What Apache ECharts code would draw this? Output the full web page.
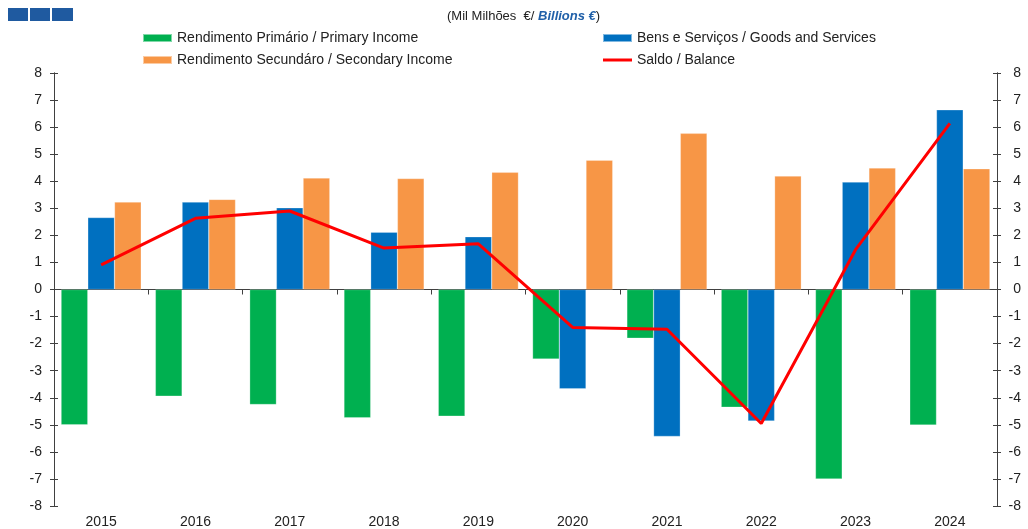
<!DOCTYPE html>
<html>
<head>
<meta charset="utf-8">
<script src="https://cdn.jsdelivr.net/npm/echarts@6/dist/echarts.min.js"></script>
<style>
	html, body { margin: 0; padding: 0; background: #fff; }
	#div_chart { width: 1028px; height: 529px; }
</style>
</head>
<body>
<div id="div_chart"></div>
<script>
// 年份
var years = ['2015', '2016', '2017', '2018', '2019', '2020', '2021', '2022', '2023', '2024'];
// 各系列数据 (Mil Milhões €)
var primary = [-5.0, -3.94, -4.25, -4.74, -4.68, -2.57, -1.80, -4.35, -7.0, -5.01];
var goods = [2.66, 3.23, 3.02, 2.12, 1.95, -3.67, -5.43, -4.86, 3.97, 6.64];
var secondary = [3.23, 3.33, 4.12, 4.10, 4.33, 4.78, 5.77, 4.19, 4.49, 4.46];
var balance = [0.91, 2.63, 2.90, 1.53, 1.69, -1.40, -1.47, -4.95, 1.47, 6.14];
// 纵轴范围
var yMin = -8, yMax = 8, yStep = 1;

var names = [
	'Rendimento Primário / Primary Income',
	'Bens e Serviços / Goods and Services',
	'Rendimento Secundáro / Secondary Income',
	'Saldo / Balance'
];

var font = 'Liberation Sans, Arial, sans-serif';
var textColor = '#222';
var axisColor = '#404040';

// 纵轴: 带标签的外刻度 + 不带标签的内刻度, 组成十字刻度
function yAxis(pos, inside, withLabel) {
	return {
		type : 'value',
		position : pos,
		min : yMin,
		max : yMax,
		interval : yStep,
		splitLine : { show : false },
		axisLine : { show : true, lineStyle : { color : axisColor, width : 1 } },
		axisTick : { show : true, inside : inside, length : 4, lineStyle : { color : axisColor } },
		axisLabel : {
			show : withLabel,
			color : textColor,
			fontFamily : font,
			fontSize : 14,
			align : 'right',
			margin : pos == 'left' ? 12 : 24
		}
	};
}

var legendText = { color : textColor, fontFamily : font, fontSize : 14, lineHeight : 16 };
var lineIcon = 'path://M0,0 L29,0 L29,3 L0,3 Z';

var option = {
	animation : false,
	backgroundColor : '#fff',
	graphic : [
		// 左上角标志
		{ type : 'rect', shape : { x : 8, y : 8, width : 20, height : 13 }, style : { fill : '#1F5AA0' } },
		{ type : 'rect', shape : { x : 30, y : 8, width : 20, height : 13 }, style : { fill : '#1F5AA0' } },
		{ type : 'rect', shape : { x : 52, y : 8, width : 21, height : 13 }, style : { fill : '#1F5AA0' } },
		// 单位
		{
			type : 'text',
			left : 447,
			top : 10,
			style : {
				text : '{a|(Mil Milhões  €/ }{b|Billions €}{a|)}',
				rich : {
					a : { fontFamily : font, fontSize : 13, fill : textColor },
					b : { fontFamily : font, fontSize : 13, fontStyle : 'italic', fontWeight : 'bold', fill : '#1F5FA8' }
				}
			}
		}
	],
	legend : [{
		orient : 'vertical',
		left : 142,
		top : 30,
		padding : 0,
		itemWidth : 29,
		itemHeight : 8,
		itemGap : 6,
		icon : 'rect',
		textStyle : legendText,
		data : [names[0], names[2]]
	}, {
		orient : 'vertical',
		left : 602,
		top : 30,
		padding : 0,
		itemWidth : 29,
		itemHeight : 8,
		itemGap : 6,
		textStyle : legendText,
		data : [{ name : names[1], icon : 'rect' }, { name : names[3], icon : lineIcon }]
	}],
	grid : { left : 54, right : 31, top : 73, bottom : 23, containLabel : false },
	xAxis : [{
		// 底部年份标签
		type : 'category',
		data : years,
		position : 'bottom',
		axisLine : { show : false, onZero : false },
		axisTick : { show : false },
		axisLabel : { color : textColor, fontFamily : font, fontSize : 14, margin : 9 }
	}, {
		// 零线上的横轴
		type : 'category',
		data : years,
		position : 'bottom',
		axisLine : { show : true, onZero : true, lineStyle : { color : axisColor, width : 1 } },
		axisTick : { show : true, length : 5, lineStyle : { color : axisColor } },
		axisLabel : { show : false }
	}],
	yAxis : [
		yAxis('left', false, true),
		yAxis('right', false, true),
		yAxis('left', true, false),
		yAxis('right', true, false)
	],
	series : [{
		name : names[0],
		type : 'bar',
		data : primary,
		color : '#00B050',
		barGap : '0%',
		barCategoryGap : '15%',
		itemStyle : { borderColor : 'rgba(255,255,255,0.5)', borderWidth : 0.5 }
	}, {
		name : names[1],
		type : 'bar',
		data : goods,
		color : '#0070C0',
		barGap : '0%',
		barCategoryGap : '15%',
		itemStyle : { borderColor : 'rgba(255,255,255,0.5)', borderWidth : 0.5 }
	}, {
		name : names[2],
		type : 'bar',
		data : secondary,
		color : '#F79646',
		barGap : '0%',
		barCategoryGap : '15%',
		itemStyle : { borderColor : 'rgba(255,255,255,0.5)', borderWidth : 0.5 }
	}, {
		name : names[3],
		type : 'line',
		data : balance,
		color : '#FF0000',
		showSymbol : false,
		symbol : 'none',
		z : 5,
		lineStyle : { color : '#FF0000', width : 3 }
	}]
};

var myChart = echarts.init(document.getElementById('div_chart'));
myChart.setOption(option);
</script>
</body>
</html>
